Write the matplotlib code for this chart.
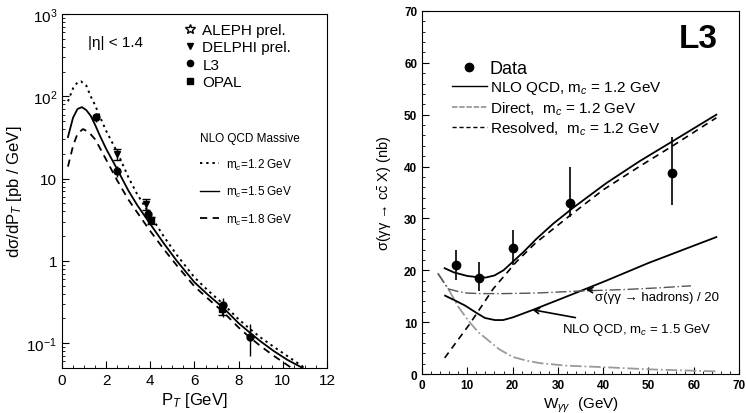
import numpy as np
import matplotlib
matplotlib.use("Agg")
import matplotlib.pyplot as plt
from matplotlib.lines import Line2D
from matplotlib.ticker import MultipleLocator

plt.rcParams['font.family'] = ['Liberation Sans', 'DejaVu Sans']
plt.rcParams['mathtext.fontset'] = 'custom'
plt.rcParams['mathtext.rm'] = 'Liberation Sans'
plt.rcParams['mathtext.it'] = 'Liberation Sans:italic'
plt.rcParams['mathtext.bf'] = 'Liberation Sans:bold'

# ---- left panel: d sigma / dpT, NLO massive curves ----
pt_12 = [0.27, 0.5, 0.7, 0.86, 1.1, 1.3, 1.5, 1.7, 2.0, 2.5, 3.0, 3.4, 4.0, 4.6,
         5.2, 6.0, 6.6, 7.3, 8.0, 8.5, 9.0, 9.6, 10.2, 11.0]
xs_12 = [87, 125, 148, 152, 135, 100, 78, 58, 38, 21, 10.5, 6.5, 3.6, 2.0,
         1.18, 0.63, 0.44, 0.30, 0.195, 0.15, 0.117, 0.09, 0.07, 0.05]

pt_15 = [0.27, 0.5, 0.7, 0.9, 1.1, 1.3, 1.5, 1.7, 2.0, 2.5, 3.0, 3.4, 4.0, 4.6,
         5.2, 6.0, 6.6, 7.3, 8.0, 8.5, 9.0, 9.6, 10.2, 10.9]
xs_15 = [32, 55, 70, 74, 68, 58, 45, 34, 23, 13, 7.2, 4.8, 2.8, 1.65,
         1.0, 0.55, 0.39, 0.27, 0.175, 0.135, 0.105, 0.08, 0.063, 0.05]

pt_18 = [0.27, 0.5, 0.7, 0.95, 1.2, 1.5, 1.7, 2.0, 2.5, 3.0, 3.4, 4.0, 4.6,
         5.2, 6.0, 6.6, 7.3, 8.0, 8.5, 9.0, 9.6, 10.4]
xs_18 = [14, 25, 35, 40, 37, 30, 24, 17, 9.5, 5.6, 3.9, 2.3, 1.4,
         0.88, 0.49, 0.35, 0.24, 0.155, 0.118, 0.092, 0.07, 0.05]

# experimental points (pT, value, err_low, err_high)
delphi_pt = [2.5, 3.8]
delphi_y = [20, 4.9]
delphi_lo = [3, 0.7]
delphi_hi = [3, 0.7]

l3_pt = [1.55, 2.5, 3.9, 7.3, 8.5]
l3_y = [56, 12.4, 3.7, 0.29, 0.12]
l3_lo = [7, 1.8, 0.6, 0.08, 0.051]
l3_hi = [7, 2.0, 0.6, 0.06, 0.05]

opal_pt = [4.05, 7.25]
opal_y = [3.1, 0.26]
opal_lo = [0.3, 0.04]
opal_hi = [0.3, 0.04]

# ---- right panel: sigma(gg -> c cbar X) vs W ----
w_data = [7.4, 12.6, 20.1, 32.6, 55.2]
s_data = [21.0, 18.6, 24.3, 33.0, 38.8]
s_lo = [2.8, 2.6, 3.3, 2.8, 6.3]
s_hi = [3.0, 2.9, 3.4, 6.9, 6.8]

w_nlo12 = [5.0, 7.0, 10.0, 12.0, 14.1, 16.0, 18.0, 20.0, 22.5, 25.2, 29.0, 33.3, 40.7, 48.0, 55.2, 65.0]
s_nlo12 = [20.4, 19.6, 18.9, 18.7, 18.6, 19.0, 20.0, 21.6, 23.6, 26.0, 29.0, 32.0, 36.8, 41.0, 44.8, 50.0]

w_res = [5.0, 10.5, 15.7, 20.8, 25.0, 32.6, 40.0, 48.0, 55.2, 65.0]
s_res = [3.1, 9.6, 16.4, 21.6, 25.2, 30.5, 35.5, 40.0, 43.9, 49.4]

w_dir = [3.5, 5.8, 8.0, 10.2, 12.5, 14.9, 17.0, 20.0, 23.0, 26.0, 32.0, 40.7, 50.0, 65.0]
s_dir = [19.4, 16.4, 13.0, 10.3, 8.0, 6.3, 4.8, 3.3, 2.6, 2.1, 1.6, 1.3, 0.9, 0.5]

w_nlo15 = [5.1, 7.0, 9.5, 12.0, 13.9, 16.1, 17.9, 20.0, 24.3, 30.4, 35.0, 40.7, 50.0, 65.0]
s_nlo15 = [15.1, 14.3, 13.2, 11.8, 10.8, 10.4, 10.4, 10.9, 12.3, 14.4, 16.0, 18.0, 21.4, 26.4]

w_had = [3.5, 5.8, 8.0, 10.0, 12.8, 18.0, 25.0, 35.0, 45.0, 52.0, 59.4]
s_had = [19.4, 16.4, 15.9, 15.6, 15.5, 15.5, 15.6, 16.0, 16.3, 16.6, 17.0]

fig = plt.figure(figsize=(7.46, 4.14), dpi=100)
ax1 = fig.add_axes([0.0831, 0.1087, 0.3552, 0.855])
ax2 = fig.add_axes([0.5657, 0.0942, 0.4249, 0.877])

# left
ax1.plot(pt_12, xs_12, color='k', ls=(0, (1.2, 2)), lw=1.4)
ax1.plot(pt_15, xs_15, color='k', ls='-', lw=1.3)
ax1.plot(pt_18, xs_18, color='k', ls=(0, (4, 3)), lw=1.3)

ax1.errorbar(delphi_pt, delphi_y, yerr=[delphi_lo, delphi_hi], fmt='v', color='k',
             ms=5, capsize=3, lw=1)
ax1.errorbar(l3_pt, l3_y, yerr=[l3_lo, l3_hi], fmt='o', color='k', ms=5, capsize=0, lw=1)
ax1.errorbar(opal_pt, opal_y, yerr=[opal_lo, opal_hi], fmt='s', color='k', ms=4.5,
             capsize=3, lw=1)

ax1.set_yscale('log')
ax1.set_xlim(0, 12)
ax1.set_ylim(0.05, 1000)
ax1.set_xticks([0, 2, 4, 6, 8, 10, 12])
ax1.xaxis.set_minor_locator(MultipleLocator(0.5))
ax1.set_yticks([0.1, 1, 10, 100, 1000])
ax1.set_yticklabels(['$10^{-1}$', '1', '10', '$10^{2}$', '$10^{3}$'])
ax1.tick_params(which='both', direction='in', labelsize=11)
ax1.tick_params(which='major', length=5)
ax1.set_xlabel('P$_T$ [GeV]', fontsize=12, labelpad=2)
ax1.set_ylabel('d\u03c3/dP$_T$ [pb / GeV]', fontsize=12, labelpad=2)
ax1.text(0.10, 0.92, '|\u03b7| < 1.4', transform=ax1.transAxes, fontsize=11,
         ha='left', va='center')

exp_handles = [
    Line2D([], [], marker='*', ls='none', mfc='white', mec='k', ms=7),
    Line2D([], [], marker='v', ls='none', color='k', ms=5),
    Line2D([], [], marker='o', ls='none', color='k', ms=4.5),
    Line2D([], [], marker='s', ls='none', color='k', ms=4.5),
]
leg1 = ax1.legend(exp_handles, ['ALEPH prel.', 'DELPHI prel.', 'L3', 'OPAL'],
                  loc='upper left', bbox_to_anchor=(0.42, 1.005), frameon=False,
                  fontsize=11, handlelength=0.8, handletextpad=0.4, labelspacing=0.22,
                  borderpad=0.2)
ax1.add_artist(leg1)

nlo_handles = [
    Line2D([], [], color='k', ls=(0, (1.2, 2)), lw=1.4),
    Line2D([], [], color='k', ls='-', lw=1.0),
    Line2D([], [], color='k', ls=(0, (4, 3)), lw=1.3),
]
leg2 = ax1.legend(nlo_handles, ['m$_c$=1.2 GeV', 'm$_c$=1.5 GeV', 'm$_c$=1.8 GeV'],
                  loc='upper left', bbox_to_anchor=(0.49, 0.69), frameon=False,
                  fontsize=8.5, handlelength=1.6, handletextpad=0.6, labelspacing=1.05,
                  title='NLO QCD Massive', title_fontsize=8.5, alignment='left',
                  borderpad=0.2)

# right
ax2.plot(w_nlo12, s_nlo12, color='k', ls='-', lw=1.3)
ax2.plot(w_dir, s_dir, color='#9a9a9a', ls='-.', lw=1.3)
ax2.plot(w_res, s_res, color='k', ls=(0, (4, 3)), lw=1.2)
ax2.plot(w_nlo15, s_nlo15, color='k', ls='-', lw=1.3)
ax2.plot(w_had, s_had, color='#555555', ls=(0, (8, 2, 1, 2)), lw=1.0)
ax2.errorbar(w_data, s_data, yerr=[s_lo, s_hi], fmt='o', color='k', ms=6,
             capsize=0, lw=1.2)

ax2.set_xlim(0, 70)
ax2.set_ylim(0, 70)
ax2.xaxis.set_major_locator(MultipleLocator(10))
ax2.xaxis.set_minor_locator(MultipleLocator(2))
ax2.yaxis.set_major_locator(MultipleLocator(10))
ax2.yaxis.set_minor_locator(MultipleLocator(2))
ax2.tick_params(which='both', direction='in', labelsize=8.5)
ax2.tick_params(which='major', length=5)
ax2.tick_params(which='minor', length=2.5)
for lab in ax2.get_xticklabels() + ax2.get_yticklabels():
    lab.set_fontweight('bold')
ax2.set_xlabel('W$_{\\gamma\\gamma}$  (GeV)', fontsize=11, labelpad=3)
ax2.set_ylabel('\u03c3(\u03b3\u03b3 \u2192 c$\\bar{\\mathrm{c}}$ X) (nb)', fontsize=10.5,
               labelpad=8)

data_handles = [
    Line2D([], [], marker='o', ls='none', color='k', ms=6),
    Line2D([], [], color='k', ls='-', lw=1.0),
    Line2D([], [], color='#9a9a9a', ls=(0, (3, 1)), lw=1.3),
    Line2D([], [], color='k', ls=(0, (3, 2)), lw=1.0),
]
leg3 = ax2.legend(data_handles, ['Data', 'NLO QCD, m$_c$ = 1.2 GeV',
                                 'Direct,  m$_c$ = 1.2 GeV', 'Resolved,  m$_c$ = 1.2 GeV'],
                  loc='upper left', bbox_to_anchor=(0.06, 0.895), frameon=False,
                  fontsize=11, handlelength=2.3, handletextpad=0.2, labelspacing=0.18,
                  borderpad=0.2)
leg3.get_texts()[0].set_fontsize(13)

ax2.text(0.87, 0.925, 'L3', transform=ax2.transAxes, fontsize=24, fontweight='bold',
         ha='center', va='center')

ax2.annotate('\u03c3(\u03b3\u03b3 \u2192 hadrons) / 20', xy=(36.2, 16.3), xytext=(38.2, 14.9),
             fontsize=9.5, ha='left', va='center',
             arrowprops=dict(arrowstyle='->', color='k', lw=1.1, shrinkA=0, shrinkB=0))
ax2.annotate('NLO QCD, m$_c$ = 1.5 GeV', xy=(24.3, 12.4), xytext=(31.0, 8.7),
             fontsize=9.5, ha='left', va='center',
             arrowprops=dict(arrowstyle='->', color='k', lw=1.2, shrinkA=2, shrinkB=0))

fig.savefig('out.png', dpi=100)
